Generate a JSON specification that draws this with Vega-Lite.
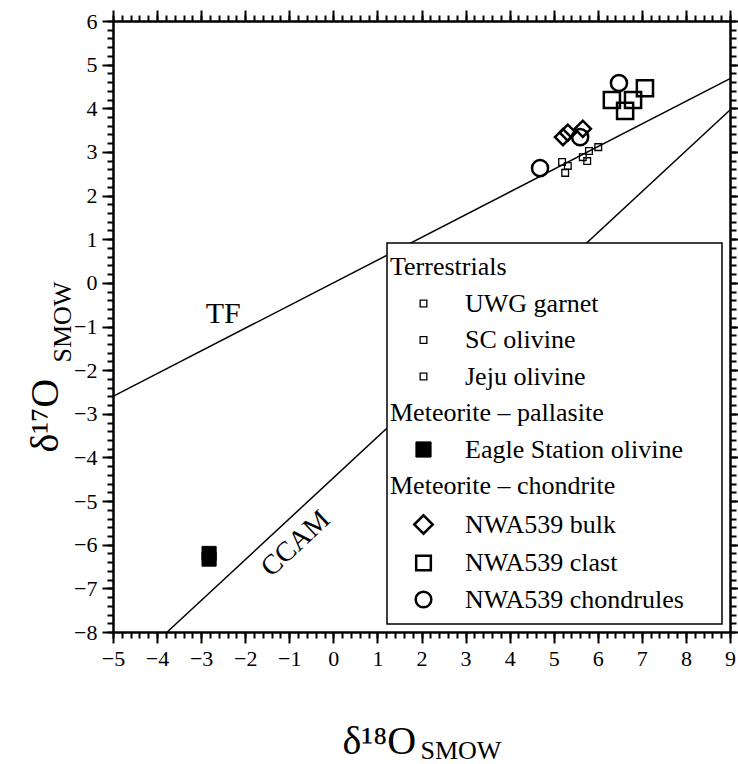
{
  "$schema": "https://vega.github.io/schema/vega-lite/v6.json",
  "width": 617,
  "height": 611,
  "autosize": {"type": "none"},
  "padding": {"left": 113, "top": 21, "right": 8, "bottom": 132},
  "background": "white",
  "config": {
    "font": "Liberation Serif",
    "view": {"stroke": null},
    "axis": {
      "grid": false,
      "domainColor": "black",
      "domainWidth": 2.5,
      "tickColor": "black",
      "tickWidth": 2,
      "labelFont": "Liberation Serif",
      "labelFontSize": 22,
      "labelColor": "black",
      "labelOverlap": false,
      "labelFlush": false,
      "titleFont": "Liberation Serif",
      "titleFontWeight": "normal",
      "titleColor": "black"
    },
    "legend": {
      "labelFont": "Liberation Serif",
      "titleFont": "Liberation Serif"
    }
  },
  "datasets": {
    "lines": [
      {"line": "TF", "d18O": -5, "d17O": -2.6},
      {"line": "TF", "d18O": 9, "d17O": 4.68},
      {"line": "CCAM", "d18O": -3.77, "d17O": -8},
      {"line": "CCAM", "d18O": 9, "d17O": 3.96}
    ],
    "samples": [
      {"group": "Terrestrials", "sample": "UWG garnet", "d18O": 5.8, "d17O": 3.02},
      {"group": "Terrestrials", "sample": "UWG garnet", "d18O": 6.01, "d17O": 3.11},
      {"group": "Terrestrials", "sample": "SC olivine", "d18O": 5.66, "d17O": 2.88},
      {"group": "Terrestrials", "sample": "SC olivine", "d18O": 5.76, "d17O": 2.79},
      {"group": "Terrestrials", "sample": "Jeju olivine", "d18O": 5.19, "d17O": 2.77},
      {"group": "Terrestrials", "sample": "Jeju olivine", "d18O": 5.26, "d17O": 2.52},
      {"group": "Terrestrials", "sample": "Jeju olivine", "d18O": 5.32, "d17O": 2.68},
      {"group": "Meteorite – pallasite", "sample": "Eagle Station olivine", "d18O": -2.82, "d17O": -6.2},
      {"group": "Meteorite – pallasite", "sample": "Eagle Station olivine", "d18O": -2.82, "d17O": -6.33},
      {"group": "Meteorite – chondrite", "sample": "NWA539 bulk", "d18O": 5.21, "d17O": 3.34},
      {"group": "Meteorite – chondrite", "sample": "NWA539 bulk", "d18O": 5.32, "d17O": 3.44},
      {"group": "Meteorite – chondrite", "sample": "NWA539 bulk", "d18O": 5.66, "d17O": 3.53},
      {"group": "Meteorite – chondrite", "sample": "NWA539 clast", "d18O": 7.07, "d17O": 4.46},
      {"group": "Meteorite – chondrite", "sample": "NWA539 clast", "d18O": 6.32, "d17O": 4.19},
      {"group": "Meteorite – chondrite", "sample": "NWA539 clast", "d18O": 6.8, "d17O": 4.19},
      {"group": "Meteorite – chondrite", "sample": "NWA539 clast", "d18O": 6.62, "d17O": 3.94},
      {"group": "Meteorite – chondrite", "sample": "NWA539 chondrules", "d18O": 4.69, "d17O": 2.63},
      {"group": "Meteorite – chondrite", "sample": "NWA539 chondrules", "d18O": 5.6, "d17O": 3.34},
      {"group": "Meteorite – chondrite", "sample": "NWA539 chondrules", "d18O": 6.48, "d17O": 4.58}
    ],
    "labels": [
      {"label": "TF", "d18O": -2.5, "d17O": -0.92},
      {"label": "CCAM", "d18O": -0.85, "d17O": -5.98}
    ]
  },
  "layer": [
    {
      "data": {"name": "lines"},
      "mark": {"type": "line", "color": "black", "strokeWidth": 1.5},
      "encoding": {
        "x": {
          "field": "d18O", "type": "quantitative",
          "scale": {"domain": [-5, 9], "nice": false, "zero": false},
          "axis": {
            "orient": "bottom",
            "values": [-5,-4,-3,-2,-1,0,1,2,3,4,5,6,7,8,9],
            "format": "d",
            "tickSize": 11,
            "labelFont": "Liberation Serif",
            "labelFontSize": 22,
            "labelOverlap": false,
            "labelPadding": 5,
            "title": "δ¹⁸O",
            "titleFontSize": 40,
            "titleX": 229,
            "titleY": 121,
            "titleAlign": "left",
            "titleBaseline": "alphabetic"
          }
        },
        "y": {
          "field": "d17O", "type": "quantitative",
          "scale": {"domain": [-8, 6], "nice": false, "zero": false},
          "axis": {
            "orient": "left",
            "values": [-8,-7,-6,-5,-4,-3,-2,-1,0,1,2,3,4,5,6],
            "format": "d",
            "tickSize": 11,
            "labelFont": "Liberation Serif",
            "labelFontSize": 22,
            "labelOverlap": false,
            "labelPadding": 5,
            "title": "δ¹⁷O",
            "titleFontSize": 40,
            "titleAngle": 270,
            "titleX": -56,
            "titleY": 431,
            "titleAlign": "left",
            "titleBaseline": "alphabetic"
          }
        },
        "detail": {"field": "line", "type": "nominal"}
      }
    },
    {
      "data": {"name": "samples"},
      "transform": [{"filter": "datum.group == 'Terrestrials'"}],
      "mark": {"type": "point", "filled": false, "color": "black", "opacity": 1, "size": 45, "strokeWidth": 1.3},
      "encoding": {
        "x": {
          "field": "d18O", "type": "quantitative",
          "axis": {
            "orient": "top",
            "values": [-5,-4,-3,-2,-1,0,1,2,3,4,5,6,7,8,9],
            "labels": false,
            "tickSize": 11,
            "title": "SMOW",
            "titleFontSize": 26,
            "titleX": 307,
            "titleY": 737,
            "titleAlign": "left",
            "titleBaseline": "alphabetic"
          }
        },
        "y": {
          "field": "d17O", "type": "quantitative",
          "axis": {
            "orient": "right",
            "values": [-8,-7,-6,-5,-4,-3,-2,-1,0,1,2,3,4,5,6],
            "labels": false,
            "tickSize": 11,
            "title": "SMOW",
            "titleFontSize": 26,
            "titleAngle": 270,
            "titleX": -660,
            "titleY": 341,
            "titleAlign": "left",
            "titleBaseline": "alphabetic"
          }
        },
        "shape": {
          "field": "sample", "type": "nominal",
          "scale": {
            "domain": ["Terrestrials", "UWG garnet", "SC olivine", "Jeju olivine", "Meteorite – pallasite", "Eagle Station olivine", "Meteorite – chondrite", "NWA539 bulk", "NWA539 clast", "NWA539 chondrules"],
            "range": ["square", "square", "square", "square", "square", "square", "square", "diamond", "square", "circle"]
          },
          "legend": {
            "title": null,
            "orient": "none",
            "legendX": 274,
            "legendY": 222,
            "padding": 11,
            "strokeColor": "black",
            "fillColor": "white",
            "labelFont": "Liberation Serif",
            "labelFontSize": 26,
            "labelColor": "black",
            "labelLimit": 400,
            "labelOffset": 28.5,
            "symbolOffset": 12.5,
            "symbolSize": 300,
            "rowPadding": 10.5,
            "encoding": {
              "legend": {
                "strokeWidth": {"value": 1.5}
              },
              "symbols": {
                "x": {"value": {"expr": "(datum.value == 'Terrestrials' || datum.value == 'Meteorite – pallasite' || datum.value == 'Meteorite – chondrite') ? 303 : datum.size * 0.5 + 12.5"}},
                "size": {"value": {"expr": "(datum.value == 'Terrestrials' || datum.value == 'Meteorite – pallasite' || datum.value == 'Meteorite – chondrite') ? 100 : (datum.value == 'UWG garnet' || datum.value == 'SC olivine' || datum.value == 'Jeju olivine') ? 45 : datum.value == 'NWA539 bulk' ? 340 : datum.value == 'NWA539 clast' ? 215 : datum.value == 'NWA539 chondrules' ? 245 : 230"}},
                "fill": {"value": {"expr": "datum.value == 'Eagle Station olivine' ? 'black' : 'transparent'"}},
                "stroke": {"value": {"expr": "(datum.value == 'Terrestrials' || datum.value == 'Meteorite – pallasite' || datum.value == 'Meteorite – chondrite') ? 'transparent' : 'black'"}},
                "strokeWidth": {"value": {"expr": "(datum.value == 'UWG garnet' || datum.value == 'SC olivine' || datum.value == 'Jeju olivine') ? 1.3 : datum.value == 'Eagle Station olivine' ? 1 : 2.5"}},
                "opacity": {"value": 1}
              },
              "labels": {
                "font": {"value": "Liberation Serif"},
                "dx": {"value": {"expr": "(datum.value == 'Terrestrials' || datum.value == 'Meteorite – pallasite' || datum.value == 'Meteorite – chondrite') ? -75 : 0"}}
              }
            }
          }
        }
      }
    },
    {
      "data": {"name": "samples"},
      "transform": [{"filter": "datum.group == 'Meteorite – pallasite'"}],
      "mark": {"type": "point", "filled": true, "color": "black", "opacity": 1, "size": 200, "stroke": "black", "strokeWidth": 1},
      "encoding": {
        "x": {
          "field": "d18O", "type": "quantitative",
          "axis": {
            "orient": "bottom",
            "values": [-5,-4.8,-4.6,-4.4,-4.2,-4,-3.8,-3.6,-3.4,-3.2,-3,-2.8,-2.6,-2.4,-2.2,-2,-1.8,-1.6,-1.4,-1.2,-1,-0.8,-0.6,-0.4,-0.2,0,0.2,0.4,0.6,0.8,1,1.2,1.4,1.6,1.8,2,2.2,2.4,2.6,2.8,3,3.2,3.4,3.6,3.8,4,4.2,4.4,4.6,4.8,5,5.2,5.4,5.6,5.8,6,6.2,6.4,6.6,6.8,7,7.2,7.4,7.6,7.8,8,8.2,8.4,8.6,8.8,9],
            "labels": false,
            "domain": false,
            "tickSize": 6,
            "title": null
          }
        },
        "y": {
          "field": "d17O", "type": "quantitative",
          "axis": {
            "orient": "left",
            "values": [-8,-7.8,-7.6,-7.4,-7.2,-7,-6.8,-6.6,-6.4,-6.2,-6,-5.8,-5.6,-5.4,-5.2,-5,-4.8,-4.6,-4.4,-4.2,-4,-3.8,-3.6,-3.4,-3.2,-3,-2.8,-2.6,-2.4,-2.2,-2,-1.8,-1.6,-1.4,-1.2,-1,-0.8,-0.6,-0.4,-0.2,0,0.2,0.4,0.6,0.8,1,1.2,1.4,1.6,1.8,2,2.2,2.4,2.6,2.8,3,3.2,3.4,3.6,3.8,4,4.2,4.4,4.6,4.8,5,5.2,5.4,5.6,5.8,6],
            "labels": false,
            "domain": false,
            "tickSize": 6,
            "title": null
          }
        },
        "shape": {"field": "sample", "type": "nominal"}
      }
    },
    {
      "data": {"name": "samples"},
      "transform": [{"filter": "datum.group == 'Meteorite – chondrite'"}],
      "mark": {"type": "point", "filled": false, "color": "black", "opacity": 1, "size": 260, "strokeWidth": 2.5},
      "encoding": {
        "x": {
          "field": "d18O", "type": "quantitative",
          "axis": {
            "orient": "top",
            "values": [-5,-4.8,-4.6,-4.4,-4.2,-4,-3.8,-3.6,-3.4,-3.2,-3,-2.8,-2.6,-2.4,-2.2,-2,-1.8,-1.6,-1.4,-1.2,-1,-0.8,-0.6,-0.4,-0.2,0,0.2,0.4,0.6,0.8,1,1.2,1.4,1.6,1.8,2,2.2,2.4,2.6,2.8,3,3.2,3.4,3.6,3.8,4,4.2,4.4,4.6,4.8,5,5.2,5.4,5.6,5.8,6,6.2,6.4,6.6,6.8,7,7.2,7.4,7.6,7.8,8,8.2,8.4,8.6,8.8,9],
            "labels": false,
            "domain": false,
            "tickSize": 6,
            "title": null
          }
        },
        "y": {
          "field": "d17O", "type": "quantitative",
          "axis": {
            "orient": "right",
            "values": [-8,-7.8,-7.6,-7.4,-7.2,-7,-6.8,-6.6,-6.4,-6.2,-6,-5.8,-5.6,-5.4,-5.2,-5,-4.8,-4.6,-4.4,-4.2,-4,-3.8,-3.6,-3.4,-3.2,-3,-2.8,-2.6,-2.4,-2.2,-2,-1.8,-1.6,-1.4,-1.2,-1,-0.8,-0.6,-0.4,-0.2,0,0.2,0.4,0.6,0.8,1,1.2,1.4,1.6,1.8,2,2.2,2.4,2.6,2.8,3,3.2,3.4,3.6,3.8,4,4.2,4.4,4.6,4.8,5,5.2,5.4,5.6,5.8,6],
            "labels": false,
            "domain": false,
            "tickSize": 6,
            "title": null
          }
        },
        "shape": {"field": "sample", "type": "nominal"}
      }
    },
    {
      "data": {"name": "labels"},
      "transform": [{"filter": "datum.label == 'TF'"}],
      "mark": {"type": "text", "font": "Liberation Serif", "fontSize": 30, "color": "black", "align": "center", "baseline": "alphabetic"},
      "encoding": {
        "x": {"field": "d18O", "type": "quantitative", "axis": null},
        "y": {"field": "d17O", "type": "quantitative", "axis": null},
        "text": {"field": "label"}
      }
    },
    {
      "data": {"name": "labels"},
      "transform": [{"filter": "datum.label == 'CCAM'"}],
      "mark": {"type": "text", "font": "Liberation Serif", "fontSize": 28, "color": "black", "align": "center", "baseline": "middle", "angle": -43},
      "encoding": {
        "x": {"field": "d18O", "type": "quantitative", "axis": null},
        "y": {"field": "d17O", "type": "quantitative", "axis": null},
        "text": {"field": "label"}
      }
    }
  ],
  "resolve": {"axis": {"x": "independent", "y": "independent"}}
}
